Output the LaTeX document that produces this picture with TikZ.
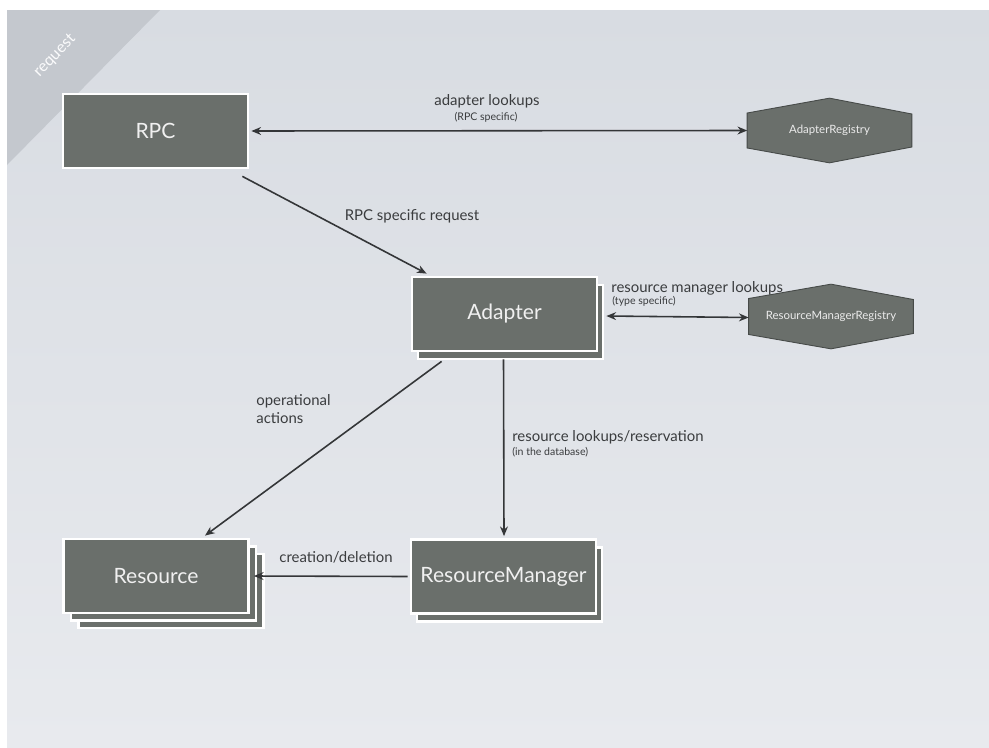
\documentclass[tikz,border=0pt]{standalone}
\usepackage{fontspec}
\setmainfont{Lato}
\usepackage{xcolor}
\usetikzlibrary{arrows.meta,shadows,backgrounds,calc}

\definecolor{slidetop}{RGB}{216,220,226}
\definecolor{slidebot}{RGB}{232,234,238}
\definecolor{cornergray}{RGB}{196,200,206}
\definecolor{boxgray}{RGB}{106,111,107}
\definecolor{hexline}{RGB}{70,74,72}
\definecolor{linkgray}{RGB}{52,54,56}
\definecolor{labelgray}{RGB}{58,60,62}

\tikzset{
  card/.style={rectangle, fill=boxgray, draw=white, line width=1.6pt,
    minimum width=3.7cm, minimum height=1.48cm, text=white!94!black,
    font=\fontsize{12}{14}\selectfont},
  onecopy/.style={copy shadow={shadow xshift=0.12cm, shadow yshift=-0.16cm}},
  twocopy/.style={double copy shadow={shadow xshift=0.15cm, shadow yshift=-0.15cm}},
  regtext/.style={minimum width=3.28cm, minimum height=1.28cm, inner sep=0pt,
    text=white!92!black, font=\fontsize{6.5}{8}\selectfont},
  hexbox/.style={fill=boxgray, draw=hexline, line width=0.5pt},
  link/.style={draw=linkgray, line width=0.9pt, >={Stealth[length=5.5pt,width=4.5pt]}},
  lbl/.style={text=labelgray, font=\fontsize{8.5}{10}\selectfont, inner sep=0pt},
  sublbl/.style={text=labelgray, font=\fontsize{6}{7}\selectfont, inner sep=0pt}
}

\begin{document}
\begin{tikzpicture}[x=0.02cm, y=-0.02cm]
  \useasboundingbox (0,0) rectangle (989,747);

  % slide background and corner tab
  \begin{scope}[on background layer]
    \fill[white] (0,0) rectangle (989,747);
    \shade[top color=slidetop, bottom color=slidebot] (7,10) rectangle (989,747);
    \fill[cornergray] (7,10) -- (160,10) -- (7,165) -- cycle;
  \end{scope}
  \node[rotate=46, text=white!90!slidetop, font=\fontsize{9}{10}\selectfont] (tab) at (55,56) {request};

  % main boxes
  \node[card] (rpc) at (155.5,131) {RPC};
  \node[card, onecopy] (adapter) at (504.5,314) {Adapter};
  \node[card, twocopy] (resource) at (156,576) {Resource};
  \node[card, onecopy] (rmanager) at (503.5,576.5) {ResourceManager};

  % registries
  \node[regtext] (areg) at (829.5,130.5) {AdapterRegistry};
  \node[regtext] (rmreg) at (831,316.5) {ResourceManagerRegistry};
  \begin{scope}[on background layer]
    \draw[hexbox] ([yshift=0.35cm]areg.west) -- (areg.north) -- ([yshift=0.33cm]areg.east)
      -- ([yshift=-0.33cm]areg.east) -- (areg.south) -- ([yshift=-0.35cm]areg.west) -- cycle;
    \draw[hexbox] ([yshift=0.36cm]rmreg.west) -- (rmreg.north) -- ([yshift=0.34cm]rmreg.east)
      -- ([yshift=-0.34cm]rmreg.east) -- (rmreg.south) -- ([yshift=-0.36cm]rmreg.west) -- cycle;
  \end{scope}

  % connectors
  \draw[link,<->] ([xshift=0.04cm]rpc.east) -- (areg.west);
  \draw[link,->] ([xshift=-0.14cm,yshift=-0.14cm]rpc.south east) -- ([xshift=0.32cm,yshift=0.04cm]adapter.north west);
  \draw[link,<->] ([xshift=0.16cm,yshift=-0.04cm]adapter.east) -- ([yshift=-0.02cm]rmreg.west);
  \draw[link,->] ([xshift=0.62cm,yshift=-0.18cm]adapter.south west) -- ([xshift=0.98cm,yshift=0.04cm]resource.north);
  \draw[link,->] ([xshift=-0.02cm,yshift=-0.14cm]adapter.south) -- ([xshift=0.01cm,yshift=0.04cm]rmanager.north);
  \draw[link,->] ([xshift=-0.04cm]rmanager.west) -- ([xshift=0.08cm]resource.east);

  % labels
  \node[lbl] (l1) at (487,101) {adapter lookups};
  \node[sublbl] (l1b) at (486,117) {(RPC specific)};
  \node[lbl] (l2) at (412,216) {RPC specific request};
  \node[lbl, anchor=west] (l3) at (611,288) {resource manager lookups};
  \node[sublbl, anchor=west] (l3b) at (612,301) {(type specific)};
  \node[lbl, anchor=west, align=left] (l4) at (256,409) {operational\\actions};
  \node[lbl, anchor=west] (l5) at (512,437) {resource lookups/reservation};
  \node[sublbl, anchor=west] (l5b) at (512,452) {(in the database)};
  \node[lbl] (l6) at (336,557) {creation/deletion};
\end{tikzpicture}
\end{document}
